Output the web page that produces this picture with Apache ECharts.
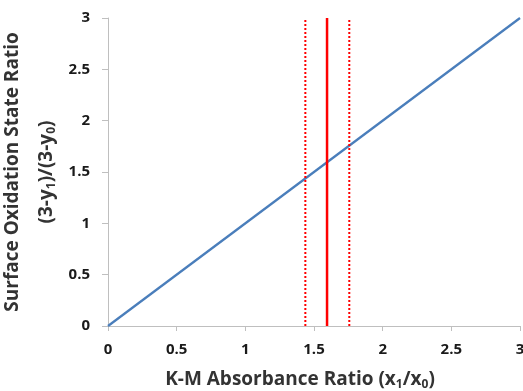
<!DOCTYPE html>
<html><head><meta charset="utf-8">
<script src="https://cdn.jsdelivr.net/npm/echarts@6/dist/echarts.min.js"></script>
<style>html,body{margin:0;padding:0;background:#fff}#c{width:523px;height:391px}</style>
</head><body><div id="c"></div>
<script>
const xTicks = [0, 0.5, 1, 1.5, 2, 2.5, 3];
const yTicks = [0, 0.5, 1, 1.5, 2, 2.5, 3];
const fitX = [0, 3];
const fitY = [0, 3];
const centerX = 1.595;
const boundX = [1.437, 1.757];
const vSpanY = [0, 3];

const font = 'Open Sans';
const chart = echarts.init(document.getElementById('c'));
chart.setOption({
  animation: false,
  grid: {left: 108, right: 3, top: 18, bottom: 65, containLabel: false, outerBoundsMode: 'none'},
  xAxis: {
    type: 'value', min: xTicks[0], max: xTicks[xTicks.length-1], interval: 0.5,
    axisLine: {show: true, lineStyle: {color: '#bfbfbf', width: 1}},
    axisTick: {show: true, length: 5, lineStyle: {color: '#bfbfbf'}},
    splitLine: {show: false},
    axisLabel: {margin: 16, fontFamily: font, fontWeight: 'bold', fontSize: 15, color: '#1a1a1a'},
    name: '{t|K-M Absorbance Ratio (x}{s|1}{t|/x}{s|0}{t|)}',
    nameLocation: 'middle', nameGap: 42,
    nameTextStyle: {padding: [0, 28, 0, 0], rich: {
      t: {fontFamily: font, fontWeight: 'bold', fontSize: 19, color: '#333', lineHeight: 24},
      s: {fontFamily: font, fontWeight: 'bold', fontSize: 12, color: '#333', lineHeight: 24, padding: [10, 0, 0, 0]}
    }}
  },
  yAxis: {
    type: 'value', min: yTicks[0], max: yTicks[yTicks.length-1], interval: 0.5,
    axisLine: {show: true, lineStyle: {color: '#bfbfbf', width: 1}},
    axisTick: {show: true, length: 6, lineStyle: {color: '#bfbfbf'}},
    splitLine: {show: false},
    axisLabel: {margin: 18, fontFamily: font, fontWeight: 'bold', fontSize: 15, color: '#1a1a1a'},
    name: '{t|Surface Oxidation State Ratio}\n{t|(3-y}{s|1}{t|)/(3-y}{s|0}{t|)}',
    nameLocation: 'middle', nameGap: 36, nameRotate: 90,
    nameTextStyle: {rich: {
      t: {fontFamily: font, fontWeight: 'bold', fontSize: 19, color: '#333', lineHeight: 34},
      s: {fontFamily: font, fontWeight: 'bold', fontSize: 12, color: '#333', lineHeight: 34, padding: [10, 0, 0, 0]}
    }}
  },
  series: [
    {type: 'line', data: fitX.map((x, i) => [x, fitY[i]]), symbol: 'none',
     lineStyle: {color: '#4a7ebb', width: 2.25}},
    {type: 'line', data: vSpanY.map(y => [centerX, y]), symbol: 'none',
     lineStyle: {color: '#ff0000', width: 2.5}},
    ...boundX.map(bx => ({type: 'line', data: vSpanY.map(y => [bx, y]), symbol: 'none',
     lineStyle: {color: '#ff0000', width: 2, type: [2, 2]}}))
  ]
});
</script></body></html>
